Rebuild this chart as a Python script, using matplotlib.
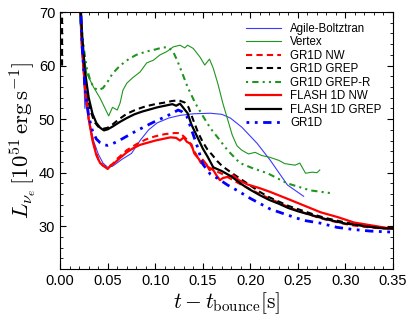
import matplotlib
matplotlib.use("Agg")
import matplotlib.pyplot as plt
from matplotlib.ticker import MultipleLocator

plt.rcParams['mathtext.fontset'] = 'cm'
plt.rcParams['font.family'] = ['Liberation Sans', 'DejaVu Sans']

# Data
ab_t = [0.0195, 0.022, 0.025, 0.026, 0.028, 0.030, 0.035, 0.040, 0.045, 0.050, 0.055,
        0.065, 0.075, 0.084, 0.093, 0.102, 0.114, 0.126, 0.140, 0.158, 0.170,
        0.179, 0.191, 0.207, 0.221, 0.239, 0.256]
ab_L = [75, 64, 57, 52, 55, 50, 46, 43.5, 41.8, 41.0, 41.2,
        42.5, 43.6, 46.0, 48.0, 49.3, 50.2, 50.7, 51.0, 51.1, 50.9,
        50.2, 48.5, 45.5, 42.3, 37.7, 35.6]

vx_t = [0.019, 0.021, 0.025, 0.028, 0.035, 0.042, 0.051, 0.055, 0.060, 0.063, 0.066,
        0.070, 0.076, 0.084, 0.091, 0.098, 0.105, 0.112, 0.119, 0.126, 0.131, 0.134,
        0.140, 0.147, 0.152, 0.157, 0.161, 0.166, 0.171, 0.176, 0.181, 0.186,
        0.191, 0.198, 0.205, 0.212, 0.220, 0.230, 0.236, 0.247, 0.252, 0.258,
        0.265, 0.270, 0.273]
vx_L = [75, 68, 62, 58.5, 56, 53.9, 50.6, 52.2, 51.7, 53, 55.4,
        56.7, 57.7, 58.8, 60.5, 61, 62.0, 62.6, 63.5, 63.8, 63.3, 63.8,
        63.2, 61.6, 60.1, 61.2, 59.5, 56.5, 53.0, 50.0, 47.0, 45.0,
        44.2, 43.5, 43.8, 43.2, 42.9, 42.3, 41.7, 41.4, 41.8, 39.9,
        40.1, 40.0, 40.5]

gr_t = [0.002, 0.002, 0.0205, 0.022, 0.025, 0.028, 0.032, 0.036, 0.040, 0.045, 0.050,
        0.055, 0.062, 0.070, 0.080, 0.090, 0.100, 0.110, 0.118, 0.125, 0.131,
        0.135, 0.140, 0.145, 0.150, 0.155, 0.160, 0.165, 0.170, 0.180, 0.190,
        0.200, 0.210, 0.220, 0.230, 0.240, 0.250, 0.260, 0.270, 0.280, 0.290,
        0.300, 0.310, 0.320, 0.330, 0.340, 0.350]
gr_L = [60, 75, 75, 67, 60, 55, 51.5, 49.5, 48.6, 48.2, 48.4,
        49.0, 50.0, 51.0, 51.8, 52.4, 52.8, 53.1, 53.4, 53.5, 53.1,
        52.2, 49.8, 47.5, 45.7, 44.3, 43.3, 42.2, 41.3, 40.0, 38.8,
        37.6, 36.4, 35.4, 34.6, 33.8, 33.2, 32.6, 32.0, 31.5, 31.1,
        30.7, 30.4, 30.1, 29.9, 29.7, 29.6]

grr_t = [0.0195, 0.022, 0.025, 0.028, 0.032, 0.036, 0.040, 0.045, 0.050, 0.055,
         0.063, 0.072, 0.080, 0.090, 0.100, 0.108, 0.114, 0.119, 0.123, 0.127,
         0.134, 0.142, 0.150, 0.158, 0.166, 0.176, 0.189, 0.203, 0.218, 0.239,
         0.263, 0.288]
grr_L = [75, 68, 63, 59.5, 57.0, 55.8, 55.4, 55.8, 57.0, 58.5,
         60.0, 61.2, 62.0, 62.6, 63.0, 63.4, 63.4, 62.5, 61.0, 59.2,
         56.0, 53.0, 50.6, 48.3, 46.5, 44.2, 41.8, 40.8, 39.9, 38.0,
         36.7, 36.1]

nw_t = [0.0205, 0.023, 0.026, 0.030, 0.035, 0.040, 0.045, 0.050, 0.055, 0.060, 0.070,
        0.080, 0.090, 0.100, 0.110, 0.120, 0.126, 0.131, 0.136, 0.140, 0.145,
        0.150, 0.160, 0.170, 0.180, 0.190, 0.200, 0.210, 0.220, 0.230, 0.240,
        0.250, 0.260, 0.270, 0.280, 0.290, 0.300, 0.310, 0.320, 0.330, 0.340, 0.350]
nw_L = [75, 64, 56, 50, 45.5, 42.5, 41.3, 41.0, 41.6, 42.6, 44.2,
        45.3, 46.2, 46.8, 47.2, 47.4, 47.4, 46.6, 45.7, 44.3, 42.8,
        41.7, 40.6, 39.8, 38.8, 37.8, 36.9, 36.0, 35.2, 34.4, 33.6,
        32.9, 32.3, 31.7, 31.2, 30.8, 30.4, 30.1, 29.9, 29.7, 29.6, 29.5]

fnw_t = [0.0205, 0.023, 0.026, 0.030, 0.034, 0.038, 0.042, 0.046, 0.050, 0.053, 0.057,
         0.062, 0.070, 0.077, 0.084, 0.092, 0.100, 0.108, 0.116, 0.122, 0.126,
         0.130, 0.133, 0.138, 0.141, 0.146, 0.148, 0.150, 0.154, 0.157, 0.160,
         0.164, 0.168, 0.171, 0.178, 0.182, 0.188, 0.197, 0.210, 0.221, 0.238,
         0.256, 0.274, 0.292, 0.309, 0.326, 0.350]
fnw_L = [75, 64, 56, 50, 46, 43.3, 41.8, 41.2, 40.7, 41.3, 41.8,
         42.6, 43.8, 44.6, 45.2, 45.6, 46.0, 46.3, 46.6, 46.5, 46.0,
         46.6, 45.8, 45.3, 43.6, 42.5, 41.8, 42.4, 41.5, 40.5, 40.8,
         39.6, 38.6, 39.0, 39.3, 39.5, 38.6, 37.8, 37.1, 36.4, 35.2,
         33.9, 32.6, 31.7, 30.7, 30.2, 29.5]

fgr_t = [0.0205, 0.023, 0.026, 0.030, 0.034, 0.038, 0.042, 0.046, 0.050, 0.055, 0.062,
         0.070, 0.078, 0.086, 0.094, 0.102, 0.110, 0.118, 0.122, 0.126, 0.130,
         0.134, 0.138, 0.142, 0.146, 0.150, 0.155, 0.161, 0.170, 0.180, 0.192,
         0.200, 0.210, 0.220, 0.230, 0.240, 0.250, 0.260, 0.270, 0.280, 0.290,
         0.300, 0.310, 0.320, 0.330, 0.340, 0.350]
fgr_L = [75, 66, 59, 54, 51, 49.3, 48.4, 47.9, 48.1, 48.6, 49.4,
         50.2, 50.9, 51.4, 51.8, 52.2, 52.5, 52.8, 52.5, 52.9, 52.0,
         51.1, 49.0, 47.5, 46.0, 44.5, 43.0, 41.0, 40.3, 39.3, 37.7,
         36.8, 35.8, 34.9, 34.2, 33.4, 32.8, 32.3, 31.8, 31.3, 30.9,
         30.5, 30.3, 30.0, 29.8, 29.6, 29.6]

g1_t = [0.0205, 0.023, 0.026, 0.030, 0.034, 0.038, 0.042, 0.046, 0.050, 0.055, 0.062,
        0.070, 0.080, 0.090, 0.100, 0.110, 0.118, 0.124, 0.128, 0.133, 0.137,
        0.144, 0.150, 0.158, 0.165, 0.176, 0.186, 0.200, 0.221, 0.239, 0.256,
        0.273, 0.291, 0.308, 0.326, 0.350]
g1_L = [75, 64, 56, 50.5, 47.8, 46.3, 45.6, 45.2, 45.1, 45.4, 46.0,
        46.8, 47.8, 48.7, 49.6, 50.4, 51.1, 51.7, 51.4, 50.6, 48.6,
        45.0, 41.6, 39.7, 39.0, 37.7, 36.7, 35.2, 33.2, 32.1, 31.1,
        30.6, 29.8, 29.4, 29.1, 28.9]

fig = plt.figure(figsize=(4.15, 3.25), dpi=100)
ax = fig.add_axes([0.145, 0.172, 0.802, 0.791])

ax.plot(ab_t, ab_L, color='#3a3aff', lw=0.8, label='Agile-Boltztran')
ax.plot(vx_t, vx_L, color='#1e961e', lw=0.8, label='Vertex')
ax.plot(nw_t, nw_L, color='red', lw=1.5, ls=(0, (3, 2)), label='GR1D NW')
ax.plot(gr_t, gr_L, color='black', lw=1.5, ls=(0, (3, 2)), label='GR1D GREP')
ax.plot(grr_t, grr_L, color='#1e961e', lw=1.5, ls=(0, (1, 2, 3, 2, 1, 2)),
        label='GR1D GREP-R')
ax.plot(fnw_t, fnw_L, color='red', lw=1.6, label='FLASH 1D NW')
ax.plot(fgr_t, fgr_L, color='black', lw=1.6, label='FLASH 1D GREP')
ax.plot(g1_t, g1_L, color='blue', lw=2.0, ls=(0, (1, 2, 1, 2, 3, 2)), label='GR1D')

ax.set_xlim(0, 0.35)
ax.set_ylim(22, 70)
ax.xaxis.set_major_locator(MultipleLocator(0.05))
ax.xaxis.set_minor_locator(MultipleLocator(0.01))
ax.yaxis.set_major_locator(MultipleLocator(10))
ax.yaxis.set_minor_locator(MultipleLocator(2))
ax.xaxis.set_major_formatter(plt.FormatStrFormatter('%.2f'))
ax.tick_params(which='both', direction='in', top=True, right=True, labelsize=10.5)
ax.tick_params(which='major', length=4, width=0.8)
ax.tick_params(which='minor', length=2, width=0.6)

ax.set_xlabel(r'$t-t_{\rm bounce}[{\rm s}]$', fontsize=15.5, labelpad=2)
ax.set_ylabel(r'$L_{\nu_e}\,[10^{51}\,{\rm erg\,s^{-1}}]$', fontsize=16.5, labelpad=1)

ax.legend(loc='upper right', frameon=False, fontsize=8.3, handlelength=3.0,
          labelspacing=0.13, borderaxespad=0.3, bbox_to_anchor=(0.99, 0.99))

fig.savefig('out.png', dpi=100)
